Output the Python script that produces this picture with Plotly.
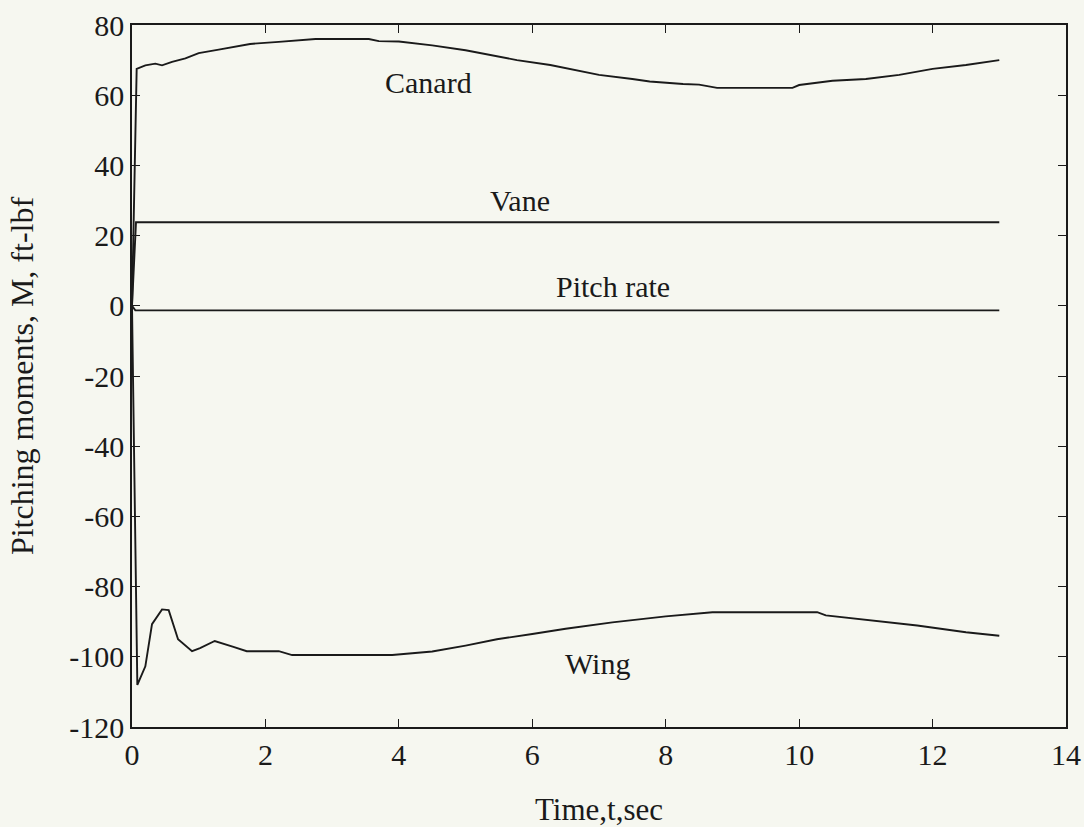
import plotly.graph_objects as go

# Time (s) and pitching moments (ft-lbf)
t_canard = [0, 0.07, 0.2, 0.35, 0.45, 0.6, 0.8, 1.0, 1.3, 1.77, 2.2, 2.75, 3.55, 3.7,
            4.0, 4.5, 5.0, 5.5, 5.77, 6.27, 7.0, 7.5, 7.76, 8.26, 8.5, 8.77, 9.9,
            10.0, 10.5, 11.0, 11.5, 12.0, 12.5, 13.0]
m_canard = [0, 67.5, 68.5, 69.0, 68.5, 69.5, 70.5, 72.0, 73.0, 74.6, 75.2, 76.0, 76.0, 75.4,
            75.3, 74.2, 72.8, 71.0, 70.0, 68.6, 65.8, 64.6, 63.9, 63.2, 63.0, 62.1, 62.1,
            62.9, 64.1, 64.6, 65.8, 67.5, 68.6, 70.0]

t_wing = [0, 0.08, 0.2, 0.3, 0.45, 0.55, 0.69, 0.9, 1.02, 1.24, 1.52, 1.72, 2.2, 2.4,
          3.9, 4.5, 5.0, 5.47, 6.0, 6.5, 7.2, 8.0, 8.7, 10.27, 10.4, 11.0, 11.77, 12.5, 13.0]
m_wing = [0, -108, -102.7, -90.7, -86.5, -86.7, -95, -98.4, -97.5, -95.5, -97.2, -98.4, -98.4, -99.5,
          -99.5, -98.5, -96.8, -95.0, -93.5, -92.0, -90.2, -88.5, -87.3, -87.3, -88.2, -89.4, -91.1, -93.0, -94.0]

t_vane = [0, 0.06, 13.0]
m_vane = [0, 23.8, 23.8]

t_pitch = [0, 0.05, 13.0]
m_pitch = [0, -1.3, -1.3]

x_ticks = [0, 2, 4, 6, 8, 10, 12, 14]
y_ticks = [80, 60, 40, 20, 0, -20, -40, -60, -80, -100, -120]

FONT = "Liberation Serif"
INK = "#1a1a1a"
line = dict(color=INK, width=1.9)

fig = go.Figure()
for tx, my, nm in [(t_canard, m_canard, "Canard"), (t_wing, m_wing, "Wing"),
                   (t_vane, m_vane, "Vane"), (t_pitch, m_pitch, "Pitch rate")]:
    fig.add_trace(go.Scatter(x=tx, y=my, mode="lines", line=line, name=nm, showlegend=False))

for txt, ax, ay in [("Canard", 4.44, 63.5), ("Vane", 5.82, 30.1),
                    ("Pitch rate", 7.21, 5.4), ("Wing", 6.97, -101.8)]:
    fig.add_annotation(x=ax, y=ay, text=txt, showarrow=False,
                       font=dict(family=FONT, size=30, color=INK))

axis_common = dict(showgrid=False, zeroline=False, showline=True, linecolor=INK,
                   linewidth=1.5, mirror="ticks", ticks="inside", ticklen=8,
                   tickcolor=INK, tickwidth=1.2, automargin=False,
                   tickfont=dict(family=FONT, size=30, color=INK))

fig.update_xaxes(range=[0, 14], tickvals=x_ticks, ticktext=[str(v) for v in x_ticks],
                 title=dict(text="Time,t,sec", font=dict(family=FONT, size=31, color=INK),
                            standoff=38),
                 **axis_common)
fig.update_yaxes(range=[-120, 80], tickvals=y_ticks, ticktext=[str(v) for v in y_ticks],
                 title=dict(text="Pitching moments, M, ft-lbf",
                            font=dict(family=FONT, size=32, color=INK), standoff=26),
                 **axis_common)

fig.update_layout(width=1084, height=827,
                  margin=dict(l=132, r=18, t=25, b=100),
                  paper_bgcolor="#f6f7f0", plot_bgcolor="#f6f7f0")

fig.write_html("out.html", config={"displayModeBar": False},
               post_script="document.body.style.margin='0';")
